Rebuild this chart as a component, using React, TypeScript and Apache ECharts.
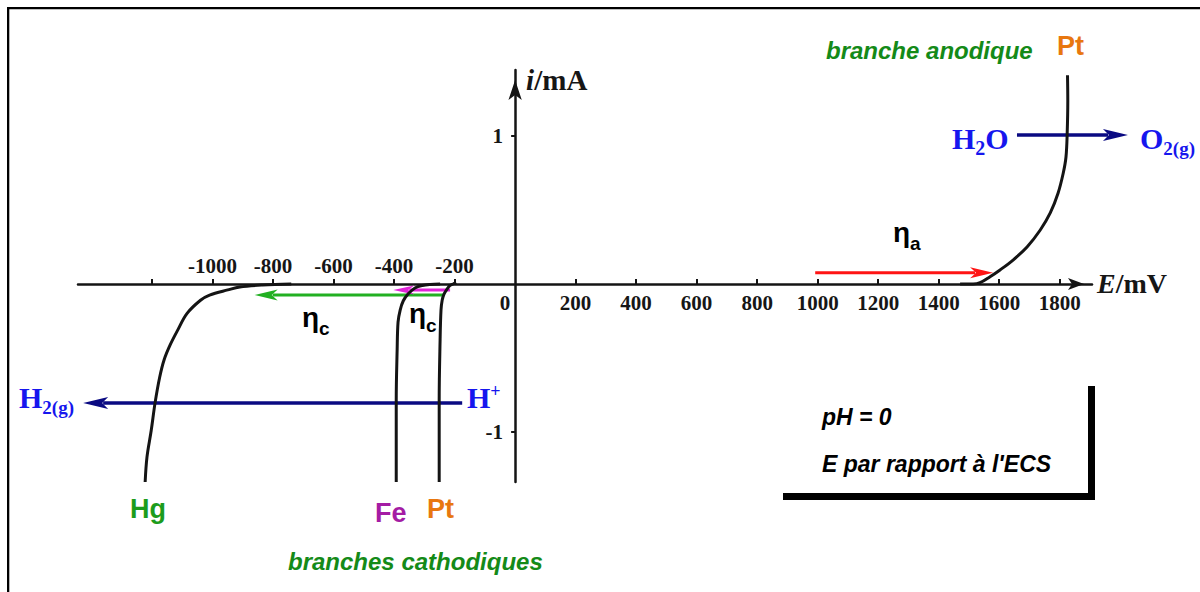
import React, { useEffect, useRef } from 'react';
import * as echarts from 'echarts';

// ---- axis ticks / labels ----
const xLabelsBelow = [200, 400, 600, 800, 1000, 1200, 1400, 1600, 1800];
const xLabelsAbove = [-1000, -800, -600, -400, -200];
const originLabel = [0];
const xTickMarks = [-1200, -1000, -800, -600, -400, -200, 200, 400, 600, 800, 1000, 1200, 1400, 1600, 1800];
const yTickValues = [-1, 1];

// ---- current / potential curves (E in mV, i in mA) ----
const hgCathodic = [
  [-740, 0], [-835, -0.007], [-910, -0.02], [-950, -0.04], [-1010, -0.075], [-1040, -0.11],
  [-1085, -0.2], [-1115, -0.31], [-1140, -0.41], [-1160, -0.51], [-1175, -0.63], [-1190, -0.8],
  [-1203, -0.99], [-1217, -1.17], [-1223, -1.338],
];
const feCathodic = [
  [-248, 0], [-281, -0.003], [-307, -0.01], [-331, -0.027], [-354, -0.068], [-370, -0.115],
  [-380, -0.176], [-387, -0.257], [-390, -0.446], [-393, -0.784], [-393, -1.338],
];
const ptCathodic = [
  [-195, 0.01], [-205, 0], [-215, -0.01], [-225, -0.034], [-235, -0.068], [-241, -0.108],
  [-245, -0.176], [-248, -0.378], [-251, -0.784], [-251, -1.338],
];
const ptAnodic = [
  [1471, 0], [1514, 0], [1537, 0.009], [1570, 0.049], [1603, 0.095], [1646, 0.162],
  [1693, 0.252], [1736, 0.365], [1769, 0.48], [1795, 0.615], [1812, 0.75], [1821, 0.858],
  [1825, 1.02], [1827, 1.24], [1826, 1.41],
];

// ---- arrows: [startE, startI, tipE, tipI] ----
const etaAnodicArrow = [992, 0.076, 1580, 0.076];
const waterOxidationArrow = [1659, 1.007, 2026, 1.007];
const etaHgArrow = [-235, -0.074, -861, -0.074];
const etaFeArrow = [-215, -0.041, -403, -0.041];
const protonReductionArrow = [-175, -0.804, -1428, -0.804];

const SERIF = 'Liberation Serif';
const SANS = 'Liberation Sans';

function arrowSeries(data: number[], color: string, lineWidth: number, headLen: number, headW: number) {
  return {
    type: 'custom',
    clip: false,
    silent: true,
    itemStyle: { color },
    encode: { x: [0, 2], y: [1, 3] },
    data: [data],
    renderItem: (_params: any, api: any) => {
      const p1 = api.coord([api.value(0), api.value(1)]);
      const p2 = api.coord([api.value(2), api.value(3)]);
      const dx = p2[0] - p1[0];
      const dy = p2[1] - p1[1];
      const len = Math.hypot(dx, dy) || 1;
      const ux = dx / len;
      const uy = dy / len;
      const bx = p2[0] - ux * headLen;
      const by = p2[1] - uy * headLen;
      const nx = -uy;
      const ny = ux;
      return {
        type: 'group',
        children: [
          {
            type: 'line',
            shape: { x1: p1[0], y1: p1[1], x2: bx + ux * 3, y2: by + uy * 3 },
            style: { stroke: color, lineWidth },
          },
          {
            type: 'polygon',
            shape: {
              points: [
                [p2[0], p2[1]],
                [bx + nx * headW / 2 - ux * 2, by + ny * headW / 2 - uy * 2],
                [bx + ux * 4, by + uy * 4],
                [bx - nx * headW / 2 - ux * 2, by - ny * headW / 2 - uy * 2],
              ],
            },
            style: { fill: color },
          },
        ],
      };
    },
  };
}

function curveSeries(data: number[][]) {
  return {
    type: 'line',
    data,
    smooth: 0.35,
    showSymbol: false,
    clip: false,
    silent: true,
    lineStyle: { color: '#141414', width: 3 },
  };
}

const labelFont = { fontFamily: SERIF, fontWeight: 'bold', fontSize: 21, color: '#161616' };

// tick labels drawn at their axis value through the chart's scales
function tickLabelSeries(data: number[][], position: string, distance: number, dim: number, offset: number[] = [0, 0]) {
  return {
    type: 'scatter',
    data,
    symbol: 'circle',
    symbolSize: 2,
    itemStyle: { color: 'rgba(255,255,255,0)' },
    clip: false,
    silent: true,
    z: 5,
    label: {
      show: true,
      position,
      distance,
      offset,
      opacity: 1,
      formatter: (p: any) => String(p.value[dim]),
      ...labelFont,
    },
  };
}

function txt(x: number, y: number, text: string, style: any) {
  return {
    type: 'text',
    x,
    y,
    silent: true,
    style: { text, align: 'left', verticalAlign: 'middle', ...style },
  };
}

const blue = '#1616ee';
const greenText = '#148a18';
const orange = '#e8770f';

export default function App() {
  const ref = useRef<HTMLDivElement>(null);

  useEffect(() => {
    if (!ref.current) return;
    const chart = echarts.init(ref.current, undefined, { renderer: 'svg' });
    const xMin = -1445;
    const xMax = 1907;
    const option: any = {
      animation: false,
      backgroundColor: '#ffffff',
      grid: { left: 78, top: 70, width: 1014, height: 412, containLabel: false },
      xAxis: {
        type: 'value',
        min: xMin,
        max: xMax,
        position: 'bottom',
        name: '{i|E}{n|/mV}',
        nameLocation: 'end',
        nameGap: 5,
        nameTextStyle: {
          rich: {
            i: { fontFamily: SERIF, fontStyle: 'italic', fontWeight: 'bold', fontSize: 28, color: '#161616' },
            n: { fontFamily: SERIF, fontWeight: 'bold', fontSize: 28, color: '#161616' },
          },
        },
        axisLine: {
          show: true,
          onZero: true,
          symbol: ['none', 'arrow'],
          symbolSize: [9, 16],
          symbolOffset: [0, -8],
          lineStyle: { color: '#141414', width: 2.5 },
        },
        axisTick: {
          show: true,
          inside: true,
          length: 5,
          customValues: xTickMarks,
          lineStyle: { color: '#141414', width: 2 },
        },
        axisLabel: { show: false },
        splitLine: { show: false },
      },
      yAxis: {
        type: 'value',
        min: -1.338,
        max: 1.446,
        name: '{i|i}{n|/mA}',
        nameLocation: 'end',
        nameGap: -10,
        nameTextStyle: {
          align: 'left',
          verticalAlign: 'middle',
          padding: [0, 0, 0, 11],
          rich: {
            i: { fontFamily: SERIF, fontStyle: 'italic', fontWeight: 'bold', fontSize: 29, color: '#161616' },
            n: { fontFamily: SERIF, fontWeight: 'bold', fontSize: 29, color: '#161616' },
          },
        },
        axisLine: {
          show: true,
          onZero: true,
          symbol: ['none', 'arrow'],
          symbolSize: [10, 20],
          symbolOffset: [0, -10],
          lineStyle: { color: '#141414', width: 2.5 },
        },
        axisTick: {
          show: true,
          inside: false,
          length: 4,
          customValues: yTickValues,
          lineStyle: { color: '#141414', width: 2 },
        },
        axisLabel: { show: false },
        splitLine: { show: false },
      },
      series: [
        curveSeries(hgCathodic),
        curveSeries(feCathodic),
        curveSeries(ptCathodic),
        curveSeries(ptAnodic),
        tickLabelSeries(xLabelsBelow.map((v) => [v, 0]), 'bottom', 8, 0),
        tickLabelSeries(originLabel.map((v) => [v, 0]), 'bottom', 8, 0, [-10, 0]),
        tickLabelSeries(xLabelsAbove.map((v) => [v, 0]), 'top', 6, 0),
        tickLabelSeries(yTickValues.map((v) => [0, v]), 'left', 11, 1),
        arrowSeries(etaAnodicArrow, '#ff1414', 3, 21, 11),
        arrowSeries(waterOxidationArrow, '#0a0a82', 3.5, 23, 12),
        arrowSeries(etaHgArrow, '#22b022', 3, 21, 11),
        arrowSeries(etaFeArrow, '#e024d8', 3, 19, 9),
        arrowSeries(protonReductionArrow, '#0a0a82', 3.5, 23, 12),
      ],
      graphic: [
        // frame
        { type: 'rect', silent: true, shape: { x: 7, y: 7, width: 2.3, height: 600 }, style: { fill: '#000' } },
        { type: 'rect', silent: true, shape: { x: 7, y: 7, width: 1200, height: 2.3 }, style: { fill: '#000' } },
        // L box
        { type: 'rect', silent: true, shape: { x: 1088, y: 386, width: 7, height: 114 }, style: { fill: '#000' } },
        { type: 'rect', silent: true, shape: { x: 783, y: 493, width: 312, height: 7 }, style: { fill: '#000' } },
        // labels
        txt(826, 50.5, 'branche anodique', { fontFamily: SANS, fontStyle: 'italic', fontWeight: 'bold', fontSize: 24, fill: greenText }),
        txt(1057, 45.5, 'Pt', { fontFamily: SANS, fontWeight: 'bold', fontSize: 27, fill: orange }),
        txt(130, 508.5, 'Hg', { fontFamily: SANS, fontWeight: 'bold', fontSize: 27, fill: '#1c9c1c' }),
        txt(375, 512.5, 'Fe', { fontFamily: SANS, fontWeight: 'bold', fontSize: 27, fill: '#a41ca4' }),
        txt(427, 508.5, 'Pt', { fontFamily: SANS, fontWeight: 'bold', fontSize: 27, fill: orange }),
        txt(288, 561.5, 'branches cathodiques', { fontFamily: SANS, fontStyle: 'italic', fontWeight: 'bold', fontSize: 24, fill: greenText }),
        txt(822, 417, 'pH = 0', { fontFamily: SANS, fontStyle: 'italic', fontWeight: 'bold', fontSize: 23, fill: '#000' }),
        txt(822, 464, "E par rapport à l'ECS", { fontFamily: SANS, fontStyle: 'italic', fontWeight: 'bold', fontSize: 23, fill: '#000' }),
        // eta labels
        txt(893, 232, '{e|η}{s|a}', {
          fill: '#000',
          rich: {
            e: { fontFamily: SANS, fontWeight: 'bold', fontSize: 28 },
            s: { fontFamily: SANS, fontWeight: 'bold', fontSize: 19, padding: [23, 0, 0, 0] },
          },
        }),
        txt(302, 317, '{e|η}{s|c}', {
          fill: '#000',
          rich: {
            e: { fontFamily: SANS, fontWeight: 'bold', fontSize: 28 },
            s: { fontFamily: SANS, fontWeight: 'bold', fontSize: 19, padding: [23, 0, 0, 0] },
          },
        }),
        txt(409, 313, '{e|η}{s|c}', {
          fill: '#000',
          rich: {
            e: { fontFamily: SANS, fontWeight: 'bold', fontSize: 28 },
            s: { fontFamily: SANS, fontWeight: 'bold', fontSize: 19, padding: [25, 0, 0, 0] },
          },
        }),
        // chemical species
        txt(952, 138, '{m|H}{s|2}{m|O}', {
          fill: blue,
          rich: {
            m: { fontFamily: SERIF, fontWeight: 'bold', fontSize: 30 },
            s: { fontFamily: SERIF, fontWeight: 'bold', fontSize: 20, padding: [20, 0, 0, 0] },
          },
        }),
        txt(1140, 138, '{m|O}{s|2(g)}', {
          fill: blue,
          rich: {
            m: { fontFamily: SERIF, fontWeight: 'bold', fontSize: 30 },
            s: { fontFamily: SERIF, fontWeight: 'bold', fontSize: 19, padding: [20, 0, 0, 0] },
          },
        }),
        txt(19, 397, '{m|H}{s|2(g)}', {
          fill: blue,
          rich: {
            m: { fontFamily: SERIF, fontWeight: 'bold', fontSize: 30 },
            s: { fontFamily: SERIF, fontWeight: 'bold', fontSize: 19, padding: [20, 0, 0, 0] },
          },
        }),
        txt(467, 397, '{m|H}{p|+}', {
          fill: blue,
          rich: {
            m: { fontFamily: SERIF, fontWeight: 'bold', fontSize: 30 },
            p: { fontFamily: SERIF, fontWeight: 'bold', fontSize: 18, padding: [0, 0, 12, 0] },
          },
        }),
      ],
    };
    chart.setOption(option);
    return () => {
      chart.dispose();
    };
  }, []);

  return (
    <div
      ref={ref}
      style={{ position: 'fixed', left: 0, top: 0, width: 1200, height: 592, background: '#fff' }}
    />
  );
}
